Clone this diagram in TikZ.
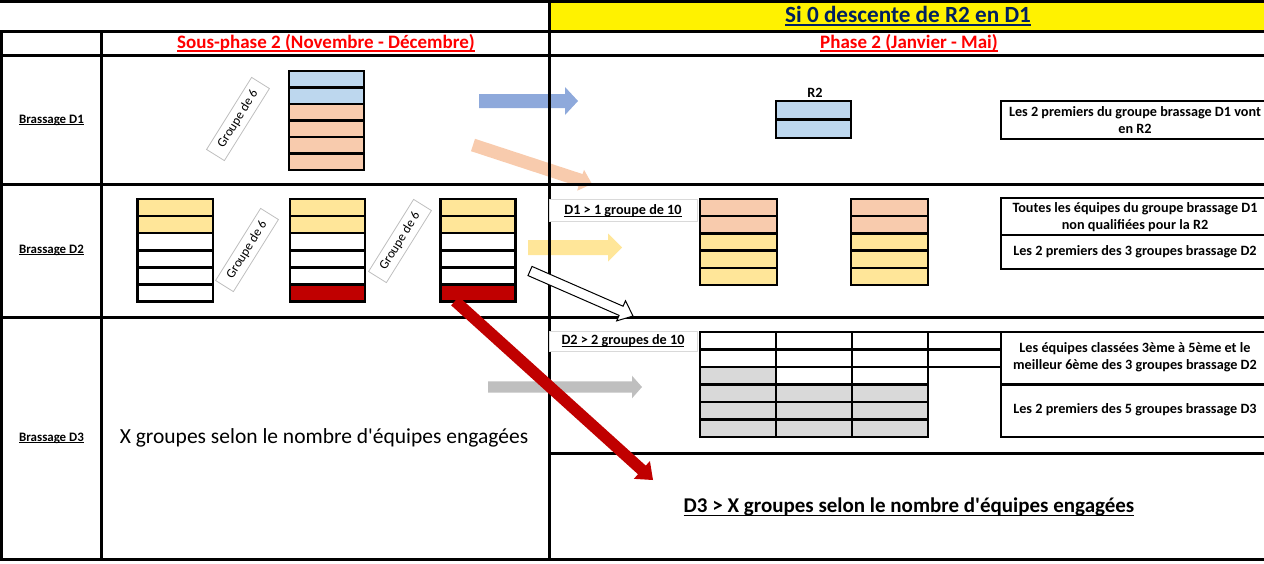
\documentclass[tikz,border=0pt]{standalone}
\usepackage{fontspec}
\setmainfont{Carlito}[Ligatures=TeXOff]
\usetikzlibrary{calc}
\definecolor{cB}{HTML}{BDD7EE}
\definecolor{cP}{HTML}{F8CBAD}
\definecolor{cY}{HTML}{FFE699}
\definecolor{cR}{HTML}{C00000}
\definecolor{cG}{HTML}{D9D9D9}
\definecolor{aBlue}{HTML}{8EA9DB}
\definecolor{aGray}{HTML}{BFBFBF}
\definecolor{navy}{HTML}{002060}
\definecolor{hred}{HTML}{FF0000}
\newcommand\ulc[1]{\setbox0\hbox{#1}\leavevmode\rlap{\rule[-0.17em]{\wd0}{0.075em}}\box0}
% #1 x, #2 y top, #3 width, #4 row height, #5 rows, #6 colours
\newcommand\grouptab[6]{%
  \foreach \c [count=\i from 0] in {#6} {\fill[\c] (#1,{#2+\i*#4}) rectangle ++(#3,#4);}
  \foreach \i in {1,...,#5} {\draw[tabline] (#1,{#2+\i*#4}) -- ++(#3,0);}
  \draw[tabline] (#1,#2) rectangle ++(#3,{#5*#4});
}
% #1 style, #2 start, #3 end, #4 shaft half width, #5 head half width, #6 head length
\newcommand\blockarrow[6]{%
  \coordinate (#2-h) at ($(#3)!#6!(#2)$);
  \path[#1] ($(#2)!#4!90:(#3)$) -- ($(#2-h)!#4!-90:(#2)$) -- ($(#2-h)!#5!-90:(#2)$) -- (#3)
     -- ($(#2-h)!#5!90:(#2)$) -- ($(#2-h)!#4!90:(#2)$) -- ($(#2)!#4!-90:(#3)$) -- cycle;
}
\begin{document}
\begin{tikzpicture}[x=1pt,y=-1pt,
  gridline/.style={line width=3pt},
  tabline/.style={line width=2.5pt},
  small/.style={font=\fontsize{14.2}{16.5}\selectfont\bfseries, align=center},
  labbox/.style={small, draw=black!15, fill=white, line width=0.8pt, minimum width=148, minimum height=22, inner sep=0},
  gbox/.style={draw=black!25, line width=0.8pt, rotate=58, minimum width=85, minimum height=21, inner sep=0, font=\fontsize{13}{13}\selectfont},
  tbox/.style={draw, line width=2.5pt},
  head/.style={font=\fontsize{19}{20}\selectfont\bfseries, text=hred},
  rowlab/.style={font=\fontsize{12.9}{14}\selectfont\bfseries},
]
\useasboundingbox (0,0) rectangle (1264,563);
\clip (0,0) rectangle (1264,563);
% header fill
\fill[yellow] (549,2) rectangle (1264,30);
% arrows behind the grid
\coordinate (bS) at (479,101);  \coordinate (bE) at (578,101);
\coordinate (pS) at (473,145);  \coordinate (pE) at (592,184);
\coordinate (yS) at (528,247.5);\coordinate (yE) at (622,247.5);
\coordinate (gS) at (488,387);  \coordinate (gE) at (642,387);
\coordinate (wS) at (530,271);  \coordinate (wE) at (633,316);
\coordinate (rS) at (455,301);  \coordinate (rE) at (653,480);
\blockarrow{fill=aBlue}{bS}{bE}{7pt}{14pt}{13pt}
\blockarrow{fill=cP}{pS}{pE}{6.5pt}{11pt}{12pt}
\blockarrow{fill=cY}{yS}{yE}{7.5pt}{14pt}{14pt}
\blockarrow{fill=aGray}{gS}{gE}{5.7pt}{11.3pt}{10pt}
% grid
\draw[gridline] (0,1) -- (1264,1);
\draw[gridline] (0,31) -- (1264,31);
\draw[gridline] (0,55) -- (1264,55);
\draw[gridline] (0,184) -- (1264,184);
\draw[gridline] (0,317) -- (1264,317);
\draw[gridline] (549,453) -- (1264,453);
\draw[gridline] (0,559) -- (1264,559);
\draw[gridline] (1.5,31) -- (1.5,559);
\draw[gridline] (101,31) -- (101,559);
\draw[gridline] (549,0) -- (549,559);
% headers
\node[font=\fontsize{23.2}{24}\selectfont\bfseries, text=navy] (title) at (908,16) {\ulc{Si 0 descente de R2 en D1}};
\node[head] (sp2) at (326,43) {\ulc{Sous-phase 2 (Novembre - Décembre)}};
\node[head] (ph2) at (909,43) {\ulc{Phase 2 (Janvier - Mai)}};
\node[rowlab] (bd1) at (51.5,120) {\ulc{Brassage D1}};
\node[rowlab] (bd2) at (51.5,250) {\ulc{Brassage D2}};
\node[rowlab] (bd3) at (51.5,438) {\ulc{Brassage D3}};
\node[font=\fontsize{21.5}{24}\selectfont] (xg) at (324,438) {X groupes selon le nombre d'équipes engagées};
\node[font=\fontsize{21}{24}\selectfont\bfseries] (d3x) at (909,507) {\ulc{D3 > X groupes selon le nombre d'équipes engagées}};
% left tables
\grouptab{289}{71}{75}{16.5}{6}{cB,cB,cP,cP,cP,cP}
\grouptab{137.5}{199}{75.5}{17.1}{6}{cY,cY,white,white,white,white}
\grouptab{290}{199}{75}{17.1}{6}{cY,cY,white,white,white,cR}
\grouptab{440.5}{199}{75}{17.1}{6}{cY,cY,white,white,white,cR}
\node[gbox] (g1) at (238,119) {Groupe de 6};
\node[gbox] (g2) at (247,250) {Groupe de 6};
\node[gbox] (g3) at (400,241) {Groupe de 6};
% right: D1 row
\node[small] (r2) at (815,93) {R2};
\grouptab{776}{101}{75}{18.5}{2}{cB,cB}
\draw[tbox] (1001,101) rectangle (1275,139);
\node[small] (t1) at (1135,120) {Les 2 premiers du groupe brassage D1 vont\\en R2};
% right: D2 row
\node[labbox] (l1) at (623,210.5) {\ulc{D1 > 1 groupe de 10}};
\grouptab{700}{199}{77}{17.2}{5}{cP,cP,cY,cY,cY}
\grouptab{851}{199}{77}{17.2}{5}{cP,cP,cY,cY,cY}
\draw[tbox] (1001,198) rectangle (1275,269);
\draw[tabline] (1001,235) -- (1275,235);
\node[small] (t2) at (1135,217) {Toutes les équipes du groupe brassage D1\\non qualifiées pour la R2};
\node[small] (t3) at (1135,252) {Les 2 premiers des 3 groupes brassage D2};
% right: D3 row
\node[labbox, minimum height=20] (l2) at (623,341) {\ulc{D2 > 2 groupes de 10}};
\grouptab{700}{332}{76}{17.5}{6}{white,white,cG,cG,cG,cG}
\grouptab{776}{332}{76}{17.5}{6}{white,white,white,cG,cG,cG}
\grouptab{852}{332}{76}{17.5}{6}{white,white,white,cG,cG,cG}
\grouptab{928}{332}{73}{17.5}{2}{white,white}
\draw[tbox] (1001,332) rectangle (1275,437);
\draw[tabline] (1001,384.5) -- (1275,384.5);
\node[small] (t4) at (1135,357) {Les équipes classées 3ème à 5ème et le\\meilleur 6ème des 3 groupes brassage D2};
\node[small] (t5) at (1135,410) {Les 2 premiers des 5 groupes brassage D3};
% front arrows
\blockarrow{fill=white, draw=black, line width=1pt, line join=miter}{wS}{wE}{5pt}{11pt}{13pt}
\blockarrow{fill=cR}{rS}{rE}{5.8pt}{12pt}{15pt}
\end{tikzpicture}
\end{document}
